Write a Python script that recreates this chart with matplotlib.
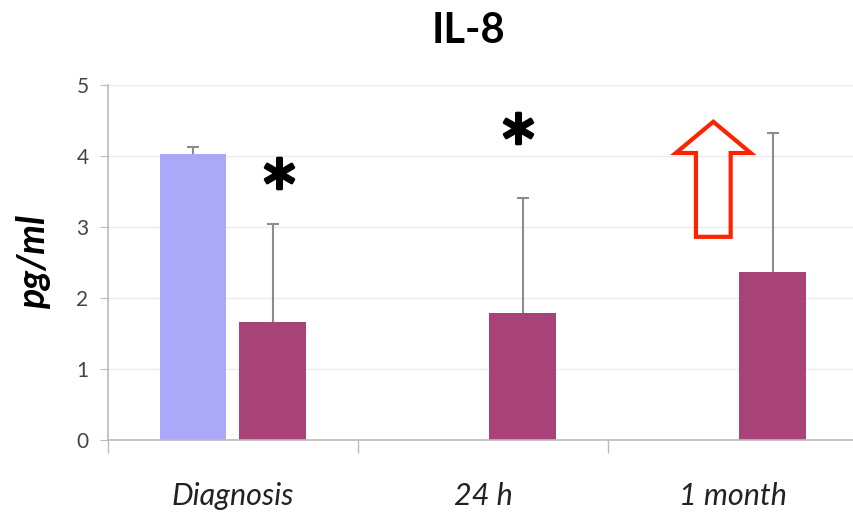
import matplotlib.pyplot as plt
import matplotlib.patches as mpatches
import numpy as np

categorias = ['Diagnosis', '24 h', '1 month']
controle = [4.03, np.nan, np.nan]
controle_erro = [0.10, np.nan, np.nan]
pacientes = [1.66, 1.79, 2.37]
pacientes_erro = [1.38, 1.62, 1.95]

cor_controle = '#AAA8F8'
cor_pacientes = '#A8437A'
cinza = '#8C8C8C'

plt.rcParams['font.family'] = ['Lato', 'DejaVu Sans']

fig = plt.figure(figsize=(8.54, 5.14), dpi=100)
ax = fig.add_axes([0.1265, 0.144, 0.8735, 0.691])

x = np.arange(len(categorias))
largura = 0.268
desloc = 0.16


def barras_com_erro(pos, valores, erros, cor):
    valores = np.asarray(valores, dtype=float)
    erros = np.asarray(erros, dtype=float)
    ax.bar(pos, valores, width=largura, color=cor, zorder=2)
    topo = valores + erros
    ax.vlines(pos, valores, topo, color=cinza, linewidth=1.5, zorder=3)
    ax.plot(pos, topo, linestyle='none', marker='_', markersize=9,
            markeredgewidth=1.5, color=cinza, zorder=3)


barras_com_erro(x - desloc, controle, controle_erro, cor_controle)
barras_com_erro(x + desloc, pacientes, pacientes_erro, cor_pacientes)

ax.set_xlim(-0.5, 2.485)
ax.set_ylim(0, 5)
ax.set_yticks(range(6))
ax.grid(axis='y', color='#EBEBEB', linewidth=1, zorder=0)

ax.set_xticks(x)
ax.set_xticklabels(categorias, fontsize=22, style='italic', color='#222222')
ax.tick_params(axis='x', which='major', length=0, pad=30)
ax.set_xticks([-0.5, 0.5, 1.5], minor=True)
ax.tick_params(axis='x', which='minor', length=9, color='#BBBBBB', width=1)
ax.tick_params(axis='y', length=6, color='#BBBBBB', labelsize=15, labelcolor='#444444', pad=8)

for lado in ['top', 'right']:
    ax.spines[lado].set_visible(False)
for lado in ['left', 'bottom']:
    ax.spines[lado].set_color('#BBBBBB')
    ax.spines[lado].set_linewidth(1.2)

ax.set_ylabel('pg/ml', fontsize=27, fontweight='bold', style='italic', labelpad=18)
fig.text(0.5486, 0.9163, 'IL-8', fontsize=30, fontweight='bold', ha='center', va='baseline')

# asteriscos de significância
ax.plot([0.183, 1.142], [3.76, 4.39], linestyle='none', marker=r'$\ast$',
        markersize=22, markeredgewidth=2.2, color='black', zorder=4)

seta = mpatches.FancyArrow(1.922, 2.86, 0, 1.62, width=0.139, head_width=0.30,
                           head_length=0.44, length_includes_head=True,
                           fill=False, edgecolor='#FF2200', linewidth=3, zorder=4)
ax.add_patch(seta)

plt.savefig('out.png', dpi=100)
